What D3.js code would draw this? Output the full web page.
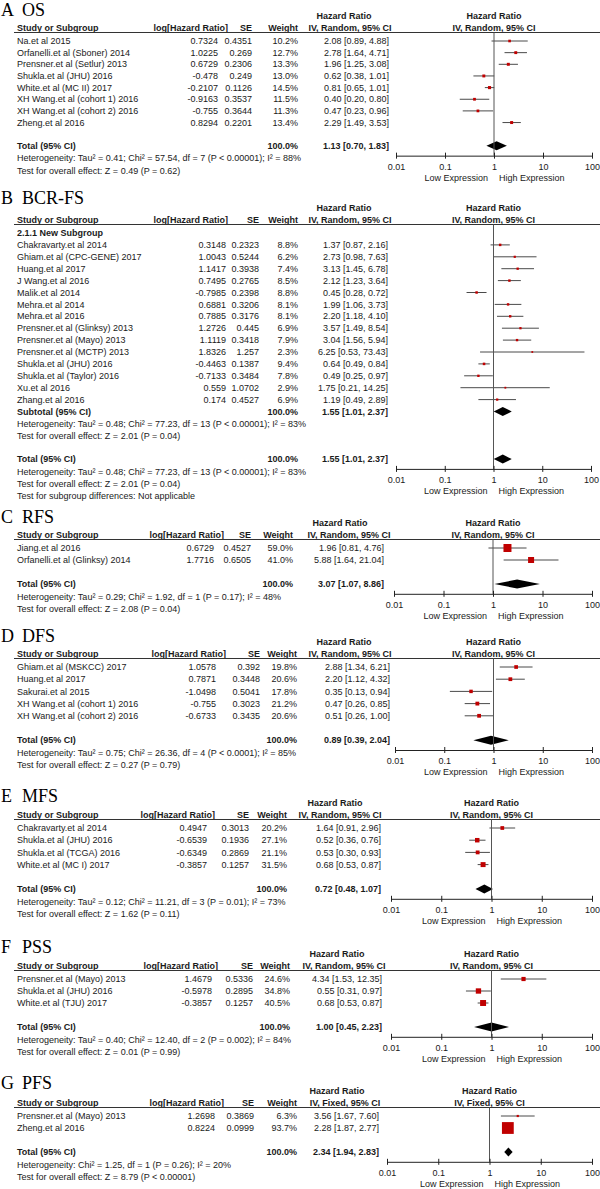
<!DOCTYPE html>
<html>
<head>
<meta charset="utf-8">
<script src="https://cdn.jsdelivr.net/npm/d3@7"></script>
<style>
  body { margin: 0; background: #fff; }
  svg { display: block; font-family: "Liberation Sans", Arial, sans-serif; }
</style>
</head>
<body>
<svg id="chart" width="600" height="1189"></svg>
<script>
// ---- data ----
const tickVals = [0.01, 0.1, 1, 10, 100];
const tickLabels = ['0.01', '0.1', '1', '10', '100'];

// A  OS
const osStudy = ['Na.et al 2015', 'Orfanelli.et al (Sboner) 2014', 'Prensner.et al (Setlur) 2013', 'Shukla.et al (JHU) 2016',
  'White.et al (MC II) 2017', 'XH Wang.et al (cohort 1) 2016', 'XH Wang.et al (cohort 2) 2016', 'Zheng.et al 2016'];
const osLog = [0.7324, 1.0225, 0.6729, -0.478, -0.2107, -0.9163, -0.755, 0.8294];
const osSE = [0.4351, 0.269, 0.2306, 0.249, 0.1126, 0.3537, 0.3644, 0.2201];
const osWeight = [10.2, 12.7, 13.3, 13.0, 14.5, 11.5, 11.3, 13.4];
const osHR = [2.08, 2.78, 1.96, 0.62, 0.81, 0.40, 0.47, 2.29];
const osLow = [0.89, 1.64, 1.25, 0.38, 0.65, 0.20, 0.23, 1.49];
const osHigh = [4.88, 4.71, 3.08, 1.01, 1.01, 0.80, 0.96, 3.53];
const osTotal = [1.13, 0.70, 1.83];
const osNotes = ['Heterogeneity: Tau² = 0.41; Chi² = 57.54, df = 7 (P < 0.00001); I² = 88%',
  'Test for overall effect: Z = 0.49 (P = 0.62)'];

// B  BCR-FS
const bcrStudy = ['Chakravarty.et al 2014', 'Ghiam.et al (CPC-GENE) 2017', 'Huang.et al 2017', 'J Wang.et al 2016',
  'Malik.et al 2014', 'Mehra.et al 2014', 'Mehra.et al 2016', 'Prensner.et al (Glinksy) 2013', 'Prensner.et al (Mayo) 2013',
  'Prensner.et al (MCTP) 2013', 'Shukla.et al (JHU) 2016', 'Shukla.et al (Taylor) 2016', 'Xu.et al 2016', 'Zhang.et al 2016'];
const bcrLog = [0.3148, 1.0043, 1.1417, 0.7495, -0.7985, 0.6881, 0.7885, 1.2726, 1.1119, 1.8326, -0.4463, -0.7133, 0.559, 0.174];
const bcrSE = [0.2323, 0.5244, 0.3938, 0.2765, 0.2398, 0.3206, 0.3176, 0.445, 0.3418, 1.257, 0.1387, 0.3484, 1.0702, 0.4527];
const bcrWeight = [8.8, 6.2, 7.4, 8.5, 8.8, 8.1, 8.1, 6.9, 7.9, 2.3, 9.4, 7.8, 2.9, 6.9];
const bcrHR = [1.37, 2.73, 3.13, 2.12, 0.45, 1.99, 2.20, 3.57, 3.04, 6.25, 0.64, 0.49, 1.75, 1.19];
const bcrLow = [0.87, 0.98, 1.45, 1.23, 0.28, 1.06, 1.18, 1.49, 1.56, 0.53, 0.49, 0.25, 0.21, 0.49];
const bcrHigh = [2.16, 7.63, 6.78, 3.64, 0.72, 3.73, 4.10, 8.54, 5.94, 73.43, 0.84, 0.97, 14.25, 2.89];
const bcrSubgroup = '2.1.1 New Subgroup';
const bcrSubtotal = [1.55, 1.01, 2.37];
const bcrSubNotes = ['Heterogeneity: Tau² = 0.48; Chi² = 77.23, df = 13 (P < 0.00001); I² = 83%',
  'Test for overall effect: Z = 2.01 (P = 0.04)'];
const bcrTotal = [1.55, 1.01, 2.37];
const bcrNotes = ['Heterogeneity: Tau² = 0.48; Chi² = 77.23, df = 13 (P < 0.00001); I² = 83%',
  'Test for overall effect: Z = 2.01 (P = 0.04)', 'Test for subgroup differences: Not applicable'];

// C  RFS
const rfsStudy = ['Jiang.et al 2016', 'Orfanelli.et al (Glinksy) 2014'];
const rfsLog = [0.6729, 1.7716];
const rfsSE = [0.4527, 0.6505];
const rfsWeight = [59.0, 41.0];
const rfsHR = [1.96, 5.88];
const rfsLow = [0.81, 1.64];
const rfsHigh = [4.76, 21.04];
const rfsTotal = [3.07, 1.07, 8.86];
const rfsNotes = ['Heterogeneity: Tau² = 0.29; Chi² = 1.92, df = 1 (P = 0.17); I² = 48%',
  'Test for overall effect: Z = 2.08 (P = 0.04)'];

// D  DFS
const dfsStudy = ['Ghiam.et al (MSKCC) 2017', 'Huang.et al 2017', 'Sakurai.et al 2015',
  'XH Wang.et al (cohort 1) 2016', 'XH Wang.et al (cohort 2) 2016'];
const dfsLog = [1.0578, 0.7871, -1.0498, -0.755, -0.6733];
const dfsSE = [0.392, 0.3448, 0.5041, 0.3023, 0.3435];
const dfsWeight = [19.8, 20.6, 17.8, 21.2, 20.6];
const dfsHR = [2.88, 2.20, 0.35, 0.47, 0.51];
const dfsLow = [1.34, 1.12, 0.13, 0.26, 0.26];
const dfsHigh = [6.21, 4.32, 0.94, 0.85, 1.00];
const dfsTotal = [0.89, 0.39, 2.04];
const dfsNotes = ['Heterogeneity: Tau² = 0.75; Chi² = 26.36, df = 4 (P < 0.0001); I² = 85%',
  'Test for overall effect: Z = 0.27 (P = 0.79)'];

// E  MFS
const mfsStudy = ['Chakravarty.et al 2014', 'Shukla.et al (JHU) 2016', 'Shukla.et al (TCGA) 2016', 'White.et al (MC I) 2017'];
const mfsLog = [0.4947, -0.6539, -0.6349, -0.3857];
const mfsSE = [0.3013, 0.1936, 0.2869, 0.1257];
const mfsWeight = [20.2, 27.1, 21.1, 31.5];
const mfsHR = [1.64, 0.52, 0.53, 0.68];
const mfsLow = [0.91, 0.36, 0.30, 0.53];
const mfsHigh = [2.96, 0.76, 0.93, 0.87];
const mfsTotal = [0.72, 0.48, 1.07];
const mfsNotes = ['Heterogeneity: Tau² = 0.12; Chi² = 11.21, df = 3 (P = 0.01); I² = 73%',
  'Test for overall effect: Z = 1.62 (P = 0.11)'];

// F  PSS
const pssStudy = ['Prensner.et al (Mayo) 2013', 'Shukla.et al (JHU) 2016', 'White.et al (TJU) 2017'];
const pssLog = [1.4679, -0.5978, -0.3857];
const pssSE = [0.5336, 0.2895, 0.1257];
const pssWeight = [24.6, 34.8, 40.5];
const pssHR = [4.34, 0.55, 0.68];
const pssLow = [1.53, 0.31, 0.53];
const pssHigh = [12.35, 0.97, 0.87];
const pssTotal = [1.00, 0.45, 2.23];
const pssNotes = ['Heterogeneity: Tau² = 0.40; Chi² = 12.40, df = 2 (P = 0.002); I² = 84%',
  'Test for overall effect: Z = 0.01 (P = 0.99)'];

// G  PFS (fixed effect)
const pfsStudy = ['Prensner.et al (Mayo) 2013', 'Zheng.et al 2016'];
const pfsLog = [1.2698, 0.8224];
const pfsSE = [0.3869, 0.0999];
const pfsWeight = [6.3, 93.7];
const pfsHR = [3.56, 2.28];
const pfsLow = [1.67, 1.87];
const pfsHigh = [7.60, 2.77];
const pfsTotal = [2.34, 1.94, 2.83];
const pfsNotes = ['Heterogeneity: Chi² = 1.25, df = 1 (P = 0.26); I² = 20%',
  'Test for overall effect: Z = 8.79 (P < 0.00001)'];

// ---- layout per panel ----
// logH/logV: right edge of header / values; se, w, ci: right edges; hrHead, iv: centres
const panels = [
  { letter: 'A', name: 'OS', method: 'IV, Random, 95% CI', first: 41, step: 11.65, titleOff: 18,
    col: { logH: 228, logV: 218, se: 252, w: 298, ci: 389, hrHead: 344, iv: 350, axL: 396, axR: 592 },
    study: osStudy, log: osLog, se: osSE, weight: osWeight, hr: osHR, lo: osLow, hi: osHigh,
    total: osTotal, notes: osNotes },
  { letter: 'B', name: 'BCR-FS', method: 'IV, Random, 95% CI', first: 233, step: 11.9, titleOff: 22,
    col: { logH: 228, logV: 226, se: 259, w: 298, ci: 388, hrHead: 344, iv: 350, axL: 396, axR: 591 },
    study: bcrStudy, log: bcrLog, se: bcrSE, weight: bcrWeight, hr: bcrHR, lo: bcrLow, hi: bcrHigh,
    sub: { label: bcrSubgroup, total: bcrSubtotal, notes: bcrSubNotes },
    total: bcrTotal, notes: bcrNotes },
  { letter: 'C', name: 'RFS', method: 'IV, Random, 95% CI', first: 548, step: 12, titleOff: 18,
    col: { logH: 224, logV: 214, se: 251, w: 293, ci: 384, hrHead: 340, iv: 349, axL: 394, axR: 592 },
    study: rfsStudy, log: rfsLog, se: rfsSE, weight: rfsWeight, hr: rfsHR, lo: rfsLow, hi: rfsHigh,
    total: rfsTotal, notes: rfsNotes },
  { letter: 'D', name: 'DFS', method: 'IV, Random, 95% CI', first: 667, step: 12.2, titleOff: 18,
    col: { logH: 226, logV: 216, se: 260, w: 297, ci: 390, hrHead: 344, iv: 350, axL: 395, axR: 592 },
    study: dfsStudy, log: dfsLog, se: dfsSE, weight: dfsWeight, hr: dfsHR, lo: dfsLow, hi: dfsHigh,
    total: dfsTotal, notes: dfsNotes },
  { letter: 'E', name: 'MFS', method: 'IV, Random, 95% CI', first: 828, step: 12.2, titleOff: 19,
    col: { logH: 215, logV: 207, se: 249, w: 287, ci: 381, hrHead: 335, iv: 340, axL: 391, axR: 592 },
    study: mfsStudy, log: mfsLog, se: mfsSE, weight: mfsWeight, hr: mfsHR, lo: mfsLow, hi: mfsHigh,
    total: mfsTotal, notes: mfsNotes },
  { letter: 'F', name: 'PSS', method: 'IV, Random, 95% CI', first: 979, step: 12, titleOff: 19,
    col: { logH: 218, logV: 212, se: 253, w: 290, ci: 382, hrHead: 337, iv: 344, axL: 391, axR: 592 },
    study: pssStudy, log: pssLog, se: pssSE, weight: pssWeight, hr: pssHR, lo: pssLow, hi: pssHigh,
    total: pssTotal, notes: pssNotes },
  { letter: 'G', name: 'PFS', method: 'IV, Fixed, 95% CI', first: 1116, step: 12, titleOff: 20,
    col: { logH: 224, logV: 215, se: 254, w: 297, ci: 379, hrHead: 337, iv: 345, axL: 387, axR: 592 },
    study: pfsStudy, log: pfsLog, se: pfsSE, weight: pfsWeight, hr: pfsHR, lo: pfsLow, hi: pfsHigh,
    total: pfsTotal, notes: pfsNotes },
];

const svg = d3.select('#chart');
const FS = 9;
const INK = '#1a1a1a';
const fmt2 = d3.format('.2f');
const fmtW = w => d3.format('.1f')(w) + '%';
const ciText = (h, l, u) => fmt2(h) + ' [' + fmt2(l) + ', ' + fmt2(u) + ']';
// square side grows with study weight
const sizeScale = d3.scaleLinear().domain([0, 100]).range([1.5, 12.5]);

function label(g, x, y, s, anchor, bold) {
  return g.append('text')
    .attr('x', x)
    .attr('y', y)
    .attr('dy', '0.35em')
    .attr('text-anchor', anchor || 'start')
    .attr('font-size', FS)
    .attr('font-weight', bold ? 'bold' : 'normal')
    .attr('fill', INK)
    .text(s);
}

function diamond(g, x, yc, t) {
  let h = 4.5;
  let pts = [[x(t[1]), yc], [x(t[0]), yc - h], [x(t[2]), yc], [x(t[0]), yc + h]];
  g.append('polygon')
    .attr('points', pts.map(d => d.join(',')).join(' '))
    .style('fill', '#000');
}

function drawPanel(p) {
  let g = svg.append('g');
  let c = p.col;
  let head = p.first - 13;
  let y = d3.scaleLinear().domain([0, 1]).range([p.first, p.first + p.step]);
  let x = d3.scaleLog().domain([0.01, 100]).range([c.axL, c.axR]);
  let clip = v => Math.max(0.01, Math.min(100, v));

  /*
   * Title and header.
   */
  g.append('text').attr('x', 1).attr('y', head - p.titleOff).attr('dy', '0.35em')
    .attr('font-family', '"Liberation Serif", "Times New Roman", serif').attr('font-size', 18)
    .text(p.letter);
  g.append('text').attr('x', 22).attr('y', head - p.titleOff).attr('dy', '0.35em')
    .attr('font-family', '"Liberation Serif", "Times New Roman", serif').attr('font-size', 18)
    .text(p.name);

  label(g, c.hrHead, head - 12, 'Hazard Ratio', 'middle', true);
  label(g, x(1), head - 12, 'Hazard Ratio', 'middle', true);
  label(g, 17, head, 'Study or Subgroup', 'start', true);
  label(g, c.logH, head, 'log[Hazard Ratio]', 'end', true);
  label(g, c.se, head, 'SE', 'end', true);
  label(g, c.w, head, 'Weight', 'end', true);
  label(g, c.iv, head, p.method, 'middle', true);
  label(g, x(1), head, p.method, 'middle', true);

  g.append('line')
    .attr('x1', 14).attr('x2', 600)
    .attr('y1', head + 4.5).attr('y2', head + 4.5)
    .style('stroke', '#333').style('stroke-width', 1);

  /*
   * Study rows.
   */
  let k0 = 0;
  if (p.sub) {
    label(g, 17, y(0), p.sub.label, 'start', true);
    k0 = 1;
  }

  let n = p.study.length;
  for (let i = 0; i < n; i++) {
    let yc = y(k0 + i);
    label(g, 17, yc, p.study[i]);
    label(g, c.logV, yc, String(p.log[i]), 'end');
    label(g, c.se, yc, String(p.se[i]), 'end');
    label(g, c.w, yc, fmtW(p.weight[i]), 'end');
    label(g, c.ci, yc, ciText(p.hr[i], p.lo[i], p.hi[i]), 'end');

    g.append('line')
      .attr('x1', x(clip(p.lo[i]))).attr('x2', x(clip(p.hi[i])))
      .attr('y1', yc).attr('y2', yc)
      .style('stroke', '#4a4a4a').style('stroke-width', 1);

    let s = sizeScale(p.weight[i]);
    g.append('rect')
      .attr('x', x(p.hr[i]) - s / 2)
      .attr('y', yc - s / 2)
      .attr('width', s)
      .attr('height', s)
      .style('fill', '#c00000');
  }

  let k = k0 + n;
  if (p.sub) {
    let ys = y(k);
    label(g, 17, ys, 'Subtotal (95% CI)', 'start', true);
    label(g, c.w, ys, '100.0%', 'end', true);
    label(g, c.ci, ys, ciText(...p.sub.total), 'end', true);
    diamond(g, x, ys, p.sub.total);
    p.sub.notes.forEach((t, j) => label(g, 17, ys + 12 * (j + 1), t));
    k += 3;
  }

  let yt = y(k + 1);
  label(g, 17, yt, 'Total (95% CI)', 'start', true);
  label(g, c.w, yt, '100.0%', 'end', true);
  label(g, c.ci, yt, ciText(...p.total), 'end', true);
  diamond(g, x, yt, p.total);
  p.notes.forEach((t, j) => label(g, 17, yt + 12.4 * (j + 1), t));

  /*
   * Null line and log axis.
   */
  let axisY = yt + 9.8;

  g.append('line')
    .attr('x1', x(1)).attr('x2', x(1))
    .attr('y1', head + 4.5).attr('y2', axisY)
    .style('stroke', '#555').style('stroke-width', 1);

  let ax = g.append('g')
    .attr('transform', 'translate(0,' + axisY + ')')
    .call(d3.axisBottom(x).tickValues(tickVals)
      .tickFormat((d, i) => tickLabels[i]).tickSize(3).tickSizeOuter(0));
  ax.attr('font-family', null).attr('font-size', FS);
  ax.select('.domain').attr('stroke', '#222');
  ax.selectAll('.tick line').attr('y1', -3).attr('y2', 3).attr('stroke', '#222');
  ax.selectAll('.tick text').attr('y', 7.5).attr('fill', INK);

  label(g, x(1) - 6, axisY + 22, 'Low Expression', 'end');
  label(g, x(1) + 5, axisY + 22, 'High Expression', 'start');
}

panels.forEach(drawPanel);
</script>
</body>
</html>
